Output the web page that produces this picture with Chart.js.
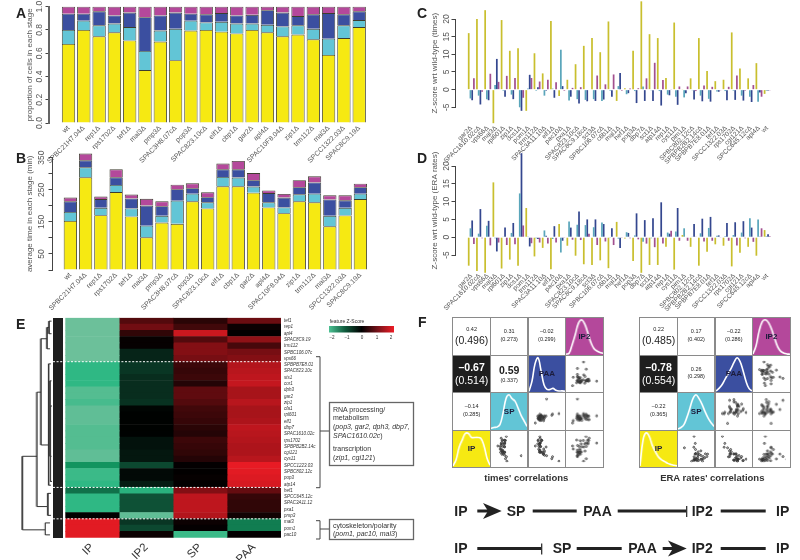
<!DOCTYPE html>
<html>
<head>
<meta charset="utf-8">
<title>Stage times and ERA rates</title>
<script src="https://cdn.jsdelivr.net/npm/chart.js@4"></script>
<style>
  html, body { margin: 0; padding: 0; background: #fff; }
  #figure { position: relative; width: 800px; height: 560px; overflow: hidden; font-family: "Liberation Sans", Arial, sans-serif; filter: blur(0.35px); }
  #figure canvas { position: absolute; }
  #figure svg { position: absolute; left: 0; top: 0; }
  #figure svg text { font-family: "Liberation Sans", Arial, sans-serif; }
  .cell { position: absolute; box-sizing: border-box; border: 1px solid #8a8a8a; text-align: center; color: #222; }
  .cell .name { position: absolute; left: 0; right: 0; top: 13.5px; font-size: 8px; font-weight: bold; color: #1c1c3c; }
  .cell .stack { position: absolute; left: 0; right: 0; top: 50%; transform: translateY(-50%); line-height: 1.08; }
  .small { font-size: 5.5px; display: block; }
  .big { font-size: 10.5px; display: block; }
  .strong { font-weight: bold; }
</style>
</head>
<body>
<div id="figure">
  <div style="position:absolute;left:53px;top:318px;width:9.5px;height:220px;background:#1e1e1e"></div>
</div>

<script>
// Panels A and B
const mutants = ['wt', 'SPBC21H7.04Δ', 'rep1Δ', 'rps1702Δ', 'tef1Δ', 'mal3Δ', 'pmp3Δ', 'SPAC3H8.07cΔ', 'pop3Δ', 'SPAC823.10cΔ',
  'elf1Δ', 'cbp1Δ', 'gar2Δ', 'apl4Δ', 'SPAC10F8.04Δ', 'zip1Δ', 'trm112Δ', 'mal3Δ', 'SPCC1322.03Δ', 'SPAC8C9.19Δ'];
const propIP = [.68, .80, .745, .78, .71, .455, .70, .54, .795, .80, .785, .77, .80, .78, .745, .76, .72, .585, .73, .825];
const propSP = [.12, .08, .095, .075, .115, .165, .095, .27, .085, .065, .085, .085, .055, .065, .085, .08, .09, .14, .11, .06];
const propPAA = [.14, .06, .12, .07, .125, .29, .13, .14, .06, .07, .075, .07, .075, .125, .12, .08, .125, .22, .095, .075];
const propIP2 = [.06, .06, .04, .075, .05, .09, .075, .05, .06, .065, .055, .075, .07, .03, .05, .08, .065, .055, .065, .04];
const timeIP = [153, 289, 171, 243, 167, 102, 148, 144, 214, 192, 261, 261, 241, 195, 177, 214, 211, 136, 170, 221];
const timeSP = [28, 31, 23, 22, 25, 36, 21, 72, 24, 19, 29, 27, 19, 16, 18, 22, 27, 33, 24, 17];
const timePAA = [33, 22, 27, 24, 31, 63, 30, 36, 17, 16, 24, 26, 20, 29, 31, 22, 35, 51, 23, 20];
const timeIP2 = [12, 21, 8, 25, 12, 21, 15, 14, 15, 15, 18, 26, 22, 8, 11, 22, 19, 13, 16, 11];

// Panels C and D
const zGenes = ['gar2Δ', 'SPAC1610.02cΔ', 'vps66Δ', 'mal3Δ', 'rpl601Δ', 'zip1Δ', 'dcs1Δ', 'pom1Δ', 'trm112Δ', 'SPAC3A11.10Δ',
  'elf1Δ', 'pac10Δ', 'pxa1Δ', 'SPAC823.10cΔ', 'SPAC8C9.18cΔ', 'sct3Δ', 'SPBC106.07cΔ', 'c6b1Δ', 'mal1Δ', 'hef1Δ',
  'pop3Δ', 'dbp7Δ', 'sct1Δ', 'atp14Δ', 'rep1Δ', 'cys11Δ', 'pim1Δ', 'SPBC802.12cΔ', 'SPBPB2B2.14cΔ', 'SPBPB7E8.01Δ',
  'tef1Δ', 'SPCC1322.03Δ', 'rps1702Δ', 'cgi121Δ', 'SPCC645.12cΔ', 'apl4Δ', 'wt'];
const timesZIP = [16, 20, 22.5, -9.5, 19.7, 11, 11.7, -6, 10.3, 4.6, 19.4, -1.8, 2.8, 7.2, 12.4, 14.6, 10.6, 19.3, -3.2, 0.4,
  11, 25, 15.7, 14.6, 3.3, 19, 0.1, 3.2, 14.6, 5.3, 2.4, 2.8, 16.2, 6, 3.2, 7.5, -1.2];
const timesZSP = [-2.5, -1.7, -2.7, 1.3, -0.3, -1.4, -5, 0.3, -0.3, -1.7, 0.3, 11.3, -3.1, -2.7, -2.9, -2.7, -3.2, -0.3, 1, -1.3,
  -0.4, 0.9, -0.2, -0.4, -1.4, -2, -2.2, -0.2, -1.7, -2.6, -0.5, -0.4, -0.3, -1.7, -2, -3.4, -0.3];
const timesZPAA = [-3, -4.2, -3, 8.7, -2, -2.7, -6, 4.2, 0.7, -0.3, -2.3, 1, -2, -3.9, -3.3, -3.2, -2.8, -2, 4.7, -1,
  -3.8, -3.2, -3.2, -4.5, -1.6, -4.3, -1, -2.8, -3.3, -3.4, -0.6, -3, -2.9, -3.1, -3.5, -0.8, -0.3];
const timesZIP2 = [3.2, -0.6, 4.5, 2.2, 3.9, 3.3, -2.3, 3.3, 2.3, 2.8, 2.1, -0.3, 0.5, 0.7, -0.2, 4, 1.5, 4.3, -0.3, 0.3,
  0.4, 3.2, 7.6, 2.7, 0.1, 0.9, 0.9, -0.4, 1.2, 0.8, -0.2, 0.8, 4, -0.3, 1.3, -2, -0.2];
const ratesZIP = [-8, -9.5, -10, 15.4, -8.8, -6.3, -8, 8.2, -5.4, -3, -9, 3.7, -2.4, -5.2, -7.6, -7.8, -6.5, -8.7, 4.3, -0.4,
  -6.7, -10, -7.8, -7.8, -2.7, -9.1, 0.6, -2.7, -8, -4.1, -2, -2.4, -8.2, -4.4, -2.7, -5.2, 2];
const ratesZSP = [2.5, 1, 3.2, -0.3, 0.1, 1.2, 12.3, 0.2, -0.3, 1.9, -0.5, -4.3, 4.4, 3.5, 3.4, 2.8, 4.1, -0.2, -0.4, 1.4,
  0.5, -1.3, -0.3, 0.1, 1.3, 1.6, 2.5, 0.1, 1.1, 2.6, 0.4, 0.3, 0.6, 1.3, 5.3, 5, 0.3];
const ratesZPAA = [4.7, 7.9, 4.6, -4, 2.7, 4, 23.6, -2.6, -0.5, 0.4, 3.1, -1, 2.7, 7.2, 5, 5, 3.7, 2.5, -3, 1.2,
  6.7, 4.8, 5.3, 9.8, 1, 8.2, 0.1, 3.7, 5.2, 5.7, 0.5, 4, 4.2, 4.5, 2.7, 0.2, 0.8];
const ratesZIP2 = [-1.9, -0.3, -2.3, -1.5, -2.2, -2, 3.3, -1.7, -1.5, -1.8, -1.5, -0.2, -0.7, -0.8, 1, -2.2, -1.2, -2.2, -0.2, -0.3,
  -0.6, -1.8, -2.8, -1.8, 1.8, -1, -1, 0.1, -1.2, -1, -0.1, -1, -2.3, -0.3, -1.3, 2.5, 0.3];

// Panel E
const heatGenes = ['tef1', 'rep1', 'apl4', 'SPAC8C9.19', 'trm112', 'SPBC106.07c', 'vps66', 'SPBPB7E8.01', 'SPAC823.10c', 'sts1',
  'cor1', 'dph3', 'gar2', 'zip1', 'cfa1', 'rpl601', 'elf1', 'dbp7', 'SPAC1610.02c', 'rps1702',
  'SPBPB2B2.14c', 'cgi121', 'cys11', 'SPCC1223.03', 'SPBC802.12c', 'pop3', 'atp14', 'hef1', 'SPCC645.12c', 'SPAC3A11.12',
  'pxa1', 'pmp3', 'mal3', 'pom1', 'pac10'];
const heatStages = ['IP', 'IP2', 'SP', 'PAA'];
const heatIP = [-2, -2, -2, -2, -2, -2, -2, -1.75, -1.75, -1.75, -1.75, -1.9, -1.9, -1.85, -1.95, -1.95, -1.95, -1.9, -1.9, -1.9,
  -1.9, -1.95, -1.95, -1.5, -1.8, -1.8, -1.75, -1.2, -1.75, -1.75, -1.75, 0, 1.9, 1.9, 1.9];
const heatIP2 = [0.7, 0.95, 0.4, 0.05, 0.05, -0.4, -0.4, -0.6, -0.6, -0.5, -0.5, -0.5, -0.5, -0.55, -0.05, -0.02, -0.02, -0.02, -0.02, -0.2,
  -0.2, -0.25, -0.25, -0.8, -0.1, -0.1, -0.3, -1.7, -0.9, -0.9, -0.9, -1.95, -0.6, -0.8, 0.1];
const heatSP = [0.35, 0.55, 1.7, 0.7, 1.1, 1.1, 1, 0.5, 0.45, 0.5, 0.3, 0.8, 0.8, 0.7, 0.55, 0.5, 0.45, 0.35, 0.3, 0.5,
  0.45, 0.4, 0.3, 0.03, 0.02, 0.05, 0.02, 1.1, 1.6, 1.6, 1.6, 1.5, 0.1, 0.03, -1.8];
const heatPAA = [0.9, 0.1, 0.02, 1.2, 0.6, 1, 1.1, 1.5, 1.55, 1.6, 1.65, 1.4, 1.4, 1.55, 1.4, 1.4, 1.45, 1.6, 1.55, 1.5,
  1.45, 1.45, 1.55, 1.95, 1.9, 1.85, 1.8, 0.85, 0.45, 0.4, 0.4, 0.15, -1.3, -1.3, 0.03];
const heatCutRows = [7, 27, 32];

// dendrogram, height and row position of each branch, null breaks the line
const dendroHeight = [16, 30.4, 30.4, 7.7, null, 12, 16, 16, 6, null, 6, 12, 12, 4.4, null, 4, 6, 6, 3, null,
  1.5, 4, 4, 1.5, null, 2, 4.4, 4.4, 2, null, 1.5, 3, 3, 1.5, null, 1, 2.5, 2.5, 1, null,
  2, 5.2, 5.2, 2, null, 3, 7.7, 7.7, 3];
const dendroRow = [22, 22, 33.7, 33.7, null, 11.8, 11.8, 30, 30, null, 3.3, 3.3, 20.2, 20.2, null, 1.5, 1.5, 4.9, 4.9, null,
  0.5, 0.5, 2.5, 2.5, null, 7.3, 7.3, 26.6, 26.6, null, 10, 10, 22, 22, null, 14, 14, 26, 26, null,
  27.9, 27.9, 31.4, 31.4, null, 32.6, 32.6, 34.5, 34.5];

// Panel F, density curves at even steps across each cell
const densityTimesIP = [.03, .2, .55, .75, .93, .93, .82, .82, .82, .8, .6, .25, .05];
const densityTimesSP = [.05, .07, .08, .15, .45, .85, .95, .85, .78, .6, .4, .25, .1];
const densityTimesPAA = [.02, .3, .78, .95, .6, .2, .07, .07, .1, .05, .03, .03, .02];
const densityTimesIP2 = [.02, .05, .28, .55, .85, .95, .85, .62, .35, .18, .11, .07, .05];
const densityRatesIP = [.03, .75, .95, .85, .6, .42, .28, .2, .15, .1, .07, .05, .03];
const densityRatesSP = [.03, .07, .15, .35, .6, .85, .95, .85, .7, .5, .33, .2, .1];
const densityRatesPAA = [.03, .1, .2, .35, .5, .65, .82, .95, .85, .6, .3, .1, .03];
const densityRatesIP2 = [.03, .25, .65, .9, .95, .88, .7, .45, .22, .1, .05, .03, .02];
const timesCorr = ['0.42', '(0.496)', '0.31', '(0.273)', '–0.02', '(0.299)', '–0.67', '(0.514)', '0.59', '(0.337)', '–0.14', '(0.285)'];
const ratesCorr = ['0.22', '(0.485)', '0.17', '(0.402)', '–0.22', '(0.286)', '–0.78', '(0.554)', '0.26', '(0.298)', '–0.22', '(0.365)'];
// axis limits of the scatter cells, IP SP PAA IP2
const timesLimits = [[-11, 26], [-6.5, 12], [-7, 9.5], [-3, 8.2]];
const ratesLimits = [[-11, 16], [-5, 6], [-5, 10.5], [-3.2, 3]];

const YELLOW = '#f6e912';
const LIGHT = '#62c5d6';
const NAVY = '#3b4fa0';
const PINK = '#b4489b';
const INK = '#555';
const FONT = '"Liberation Sans", Arial, sans-serif';
const figure = document.getElementById('figure');

Chart.defaults.font.family = FONT;
Chart.defaults.animation = false;
Chart.defaults.responsive = false;

// moves the y axis away from the first bar, as R draws it
Chart.register({
  id: 'shiftAxis',
  afterLayout(chart, args, opts) {
    if (!opts.by) return;
    chart.scales.y.left -= opts.by;
    chart.scales.y.right -= opts.by;
  }
});

function addCanvas(left, top, width, height) {
  const canvas = document.createElement('canvas');
  canvas.width = width;
  canvas.height = height;
  canvas.style.left = left + 'px';
  canvas.style.top = top + 'px';
  canvas.style.width = width + 'px';
  canvas.style.height = height + 'px';
  figure.appendChild(canvas);
  return canvas;
}

/**
 * Bar panel with a fixed plot box. box gives the canvas (cl, ct, cw, ch),
 * the plot (l, r, t, b), where the axis sits and where the title centre is.
 */
function barPanel(box, labels, datasets, yOpts, stacked) {
  const canvas = addCanvas(box.cl, box.ct, box.cw, box.ch);
  const shift = box.l - box.axis;
  const titleSize = 8;
  new Chart(canvas, {
    type: 'bar',
    data: { labels: labels, datasets: datasets },
    options: {
      layout: { padding: { left: 0, top: box.t - box.ct, right: box.cl + box.cw - box.r, bottom: 0 } },
      plugins: { legend: { display: false }, tooltip: { enabled: false }, shiftAxis: { by: shift } },
      scales: {
        x: {
          stacked: stacked,
          grid: { display: false, drawTicks: false },
          border: { display: false },
          afterFit: s => { s.height = box.ct + box.ch - box.b; },
          ticks: { autoSkip: false, minRotation: 45, maxRotation: 45, padding: box.labelPad, color: INK, font: { size: box.labelSize } }
        },
        y: {
          stacked: stacked,
          min: yOpts.min,
          max: yOpts.max,
          afterFit: s => { s.width = box.l - box.cl; },
          afterBuildTicks: s => { s.ticks = yOpts.ticks.map(v => ({ value: v })); },
          grid: { drawOnChartArea: false, tickLength: 3.5, color: '#444', lineWidth: 1 },
          border: { color: yOpts.axisColor, width: yOpts.axisWidth },
          title: {
            display: true,
            text: yOpts.title,
            color: INK,
            font: { size: titleSize },
            padding: { top: box.titleX - (box.cl - shift) - titleSize * 0.6, bottom: 0 }
          },
          ticks: {
            autoSkip: false,
            minRotation: 90,
            maxRotation: 90,
            crossAlign: 'center',
            padding: 0,
            color: INK,
            font: { size: 8.5 },
            callback: yOpts.format
          }
        }
      }
    }
  });
}

function stackSet(values, color) {
  return { data: values, backgroundColor: color, borderColor: '#3d3d2e', borderWidth: 0.9, barPercentage: 0.87, categoryPercentage: 1, clip: false };
}

function groupSet(values, color) {
  return { data: values, backgroundColor: color, barPercentage: 1, categoryPercentage: 0.84, clip: false };
}

barPanel({ cl: 0, ct: 0, cw: 400, ch: 170, l: 60.85, r: 366.85, t: 6.7, b: 123, axis: 49, titleX: 30, labelPad: 1, labelSize: 7 },
  mutants,
  [stackSet(propIP, YELLOW), stackSet(propSP, LIGHT), stackSet(propPAA, NAVY), stackSet(propIP2, PINK)],
  { min: 0, max: 1, ticks: [0, .2, .4, .6, .8, 1], axisColor: '#666', axisWidth: 2, title: 'proportion of cells in each stage',
    format: v => v.toFixed(1) }, true);

barPanel({ cl: 0, ct: 145, cw: 400, ch: 175, l: 62.7, r: 368, t: 157.7, b: 270, axis: 52, titleX: 30, labelPad: 1, labelSize: 7 },
  mutants,
  [stackSet(timeIP, YELLOW), stackSet(timeSP, LIGHT), stackSet(timePAA, NAVY), stackSet(timeIP2, PINK)],
  { min: 0, max: 350, ticks: [0, 50, 100, 150, 200, 250, 300, 350], axisColor: '#444', axisWidth: 1, title: 'average time in each stage (min)',
    format: v => (v % 100 === 50 ? String(v) : '') }, true);

const zTicks = [-5, 0, 5, 10, 15, 20];
barPanel({ cl: 412, ct: 0, cw: 388, ch: 170, l: 467.2, r: 771.3, t: 19, b: 107.3, axis: 455, titleX: 435, labelPad: 17, labelSize: 6.6 },
  zGenes,
  [groupSet(timesZIP, '#c9bf2e'), groupSet(timesZSP, '#5aa6bb'), groupSet(timesZPAA, '#34478f'), groupSet(timesZIP2, '#a2508f')],
  { min: -5, max: 20, ticks: zTicks, axisColor: '#444', axisWidth: 1, title: 'Z-score wrt wild-type (times)', format: v => String(v) }, false);

barPanel({ cl: 412, ct: 145, cw: 388, ch: 175, l: 467.2, r: 771.3, t: 166, b: 255, axis: 455, titleX: 435, labelPad: 17, labelSize: 6.6 },
  zGenes,
  [groupSet(ratesZIP, '#c9bf2e'), groupSet(ratesZSP, '#5aa6bb'), groupSet(ratesZPAA, '#34478f'), groupSet(ratesZIP2, '#a2508f')],
  { min: -5, max: 20, ticks: zTicks, axisColor: '#444', axisWidth: 1, title: 'Z-score wrt wild-type (ERA rates)', format: v => String(v) }, false);

// colour ramp of the heatmap
function heatColor(z) {
  const stops = [[-2, 108, 192, 154], [-1.75, 47, 184, 132], [-1.5, 18, 148, 95], [-1, 15, 90, 60], [0, 0, 0, 0], [2, 238, 28, 37]];
  const v = Math.max(-2, Math.min(2, z));
  for (let i = 1; i < stops.length; i++) {
    if (v <= stops[i][0]) {
      const a = stops[i - 1];
      const b = stops[i];
      const f = (v - a[0]) / (b[0] - a[0]);
      return `rgb(${a[1] + (b[1] - a[1]) * f},${a[2] + (b[2] - a[2]) * f},${a[3] + (b[3] - a[3]) * f})`;
    }
  }
  return 'rgb(238,28,37)';
}

function heatmapPanel() {
  const l = 65.3, r = 281, t = 317.7, b = 537.7;
  const cl = 40, ct = 312, cw = 300, ch = 248;
  const oneCell = heatGenes.map(() => 1);
  const columns = [heatIP, heatIP2, heatSP, heatPAA];
  const cutLines = {
    id: 'cutLines',
    afterDatasetsDraw(chart) {
      const ctx = chart.ctx;
      const y = chart.scales.y;
      const rowH = (y.getPixelForValue(1) - y.getPixelForValue(0));
      ctx.save();
      ctx.strokeStyle = '#fff';
      ctx.lineWidth = 1;
      ctx.setLineDash([2, 1.6]);
      heatCutRows.forEach(row => {
        const py = y.getPixelForValue(row) - rowH / 2;
        ctx.beginPath();
        ctx.moveTo(53 - cl, py);
        ctx.lineTo(r - cl, py);
        ctx.stroke();
      });
      ctx.restore();
    }
  };
  new Chart(addCanvas(cl, ct, cw, ch), {
    type: 'bar',
    plugins: [cutLines],
    data: {
      labels: heatGenes,
      datasets: columns.map(col => ({
        data: oneCell,
        backgroundColor: col.map(heatColor),
        borderWidth: 0,
        inflateAmount: 0.3,
        barPercentage: 1,
        categoryPercentage: 1
      }))
    },
    options: {
      indexAxis: 'y',
      layout: { padding: { left: l - cl, top: t - ct, right: 0, bottom: 0 } },
      plugins: { legend: { display: false }, tooltip: { enabled: false } },
      scales: {
        x: {
          stacked: true,
          min: 0,
          max: 4,
          grid: { display: false, drawTicks: false },
          border: { display: false },
          afterFit: s => { s.height = ct + ch - b; },
          afterBuildTicks: s => { s.ticks = heatStages.map((_, i) => ({ value: i + 0.5 })); },
          ticks: { minRotation: 45, maxRotation: 45, padding: 3, color: '#333', font: { size: 11.5 }, callback: v => heatStages[v - 0.5] }
        },
        y: {
          stacked: true,
          position: 'right',
          grid: { display: false, drawTicks: false },
          border: { display: false },
          afterFit: s => { s.width = cl + cw - r; },
          ticks: { autoSkip: false, padding: 3, color: '#333', font: { size: 4.5, style: 'italic' } }
        }
      }
    }
  });

  const dendroPoints = dendroHeight.map((h, i) => ({ x: h, y: dendroRow[i] }));
  new Chart(addCanvas(15, t, 37.7, b - t), {
    type: 'scatter',
    data: { datasets: [{ data: dendroPoints, showLine: true, borderColor: '#333', borderWidth: 1, pointRadius: 0, spanGaps: false, tension: 0 }] },
    options: {
      plugins: { legend: { display: false }, tooltip: { enabled: false } },
      scales: {
        x: { display: false, reverse: true, min: 0, max: 37.7 },
        y: { display: false, reverse: true, min: 0, max: 35 }
      }
    }
  });
}
heatmapPanel();

function densityCell(left, top, size, curve, fill, name) {
  const cell = document.createElement('div');
  cell.className = 'cell';
  cell.style.cssText = `left:${left}px;top:${top}px;width:${size + 1}px;height:${size + 1}px;background:${fill}`;
  figure.appendChild(cell);
  new Chart(addCanvas(left + 1, top + 1, size - 1, size - 1), {
    type: 'line',
    data: { labels: curve.map((_, i) => i), datasets: [{ data: curve, borderColor: '#fff', borderWidth: 1.6, pointRadius: 0, tension: 0.4 }] },
    options: {
      plugins: { legend: { display: false }, tooltip: { enabled: false } },
      scales: { x: { display: false }, y: { display: false, min: 0, max: 1 } }
    }
  });
  const label = document.createElement('div');
  label.className = 'cell';
  label.style.cssText = `left:${left}px;top:${top}px;width:${size + 1}px;height:${size + 1}px;border-color:transparent`;
  label.innerHTML = `<span class="name">${name}</span>`;
  figure.appendChild(label);
}

function scatterCell(left, top, size, xs, ys, xLim, yLim) {
  const cell = document.createElement('div');
  cell.className = 'cell';
  cell.style.cssText = `left:${left}px;top:${top}px;width:${size + 1}px;height:${size + 1}px`;
  figure.appendChild(cell);
  new Chart(addCanvas(left + 1, top + 1, size - 1, size - 1), {
    type: 'scatter',
    data: { datasets: [{ data: xs.map((x, i) => ({ x: x, y: ys[i] })), pointRadius: 1, pointBorderWidth: 0.7, pointBackgroundColor: 'rgba(60,60,60,0.35)', pointBorderColor: '#333' }] },
    options: {
      plugins: { legend: { display: false }, tooltip: { enabled: false } },
      scales: { x: { display: false, min: xLim[0], max: xLim[1] }, y: { display: false, min: yLim[0], max: yLim[1] } }
    }
  });
}

function textCell(left, top, size, first, second, firstClass, secondClass, dark) {
  const cell = document.createElement('div');
  cell.className = 'cell';
  cell.style.cssText = `left:${left}px;top:${top}px;width:${size + 1}px;height:${size + 1}px;` + (dark ? 'background:#1e1e1e;color:#fff' : '');
  cell.innerHTML = `<div class="stack"><span class="${firstClass}">${first}</span><span class="${secondClass}" style="margin-top:1.5px">${second}</span></div>`;
  figure.appendChild(cell);
}

function splomPanel(left, top, ip, sp, paa, ip2, dens, corr, midClass, lim) {
  const size = 37.6;
  const px = c => left + c * size;
  const py = r => top + r * size;
  textCell(px(0), py(0), size, corr[0], corr[1], 'small', 'big', false);
  textCell(px(1), py(0), size, corr[2], corr[3], 'small', 'small', false);
  textCell(px(2), py(0), size, corr[4], corr[5], 'small', 'small', false);
  textCell(px(0), py(1), size, corr[6], corr[7], 'big strong', 'big', true);
  textCell(px(1), py(1), size, corr[8], corr[9], midClass, 'small', false);
  textCell(px(0), py(2), size, corr[10], corr[11], 'small', 'small', false);
  densityCell(px(3), py(0), size, dens[3], PINK, 'IP2');
  densityCell(px(2), py(1), size, dens[2], NAVY, 'PAA');
  densityCell(px(1), py(2), size, dens[1], LIGHT, 'SP');
  densityCell(px(0), py(3), size, dens[0], YELLOW, 'IP');
  scatterCell(px(3), py(1), size, ip2, paa, lim[3], lim[2]);
  scatterCell(px(2), py(2), size, paa, sp, lim[2], lim[1]);
  scatterCell(px(3), py(2), size, ip2, sp, lim[3], lim[1]);
  scatterCell(px(1), py(3), size, sp, ip, lim[1], lim[0]);
  scatterCell(px(2), py(3), size, paa, ip, lim[2], lim[0]);
  scatterCell(px(3), py(3), size, ip2, ip, lim[3], lim[0]);
}

splomPanel(452.3, 317, timesZIP, timesZSP, timesZPAA, timesZIP2,
  [densityTimesIP, densityTimesSP, densityTimesPAA, densityTimesIP2], timesCorr, 'big strong', timesLimits);
splomPanel(639.3, 317, ratesZIP, ratesZSP, ratesZPAA, ratesZIP2,
  [densityRatesIP, densityRatesSP, densityRatesPAA, densityRatesIP2], ratesCorr, 'small', ratesLimits);
</script>

<script>
// letters, brackets, notes and the two pathway lines, on top of the charts
const SVG_NOTES = `
<svg width="800" height="560" xmlns="http://www.w3.org/2000/svg">
  <defs><linearGradient id="ramp">
    <stop offset="0" stop-color="#4cc193"/><stop offset="0.25" stop-color="#0f5a3c"/><stop offset="0.5" stop-color="#000"/>
    <stop offset="0.75" stop-color="#77131a"/><stop offset="1" stop-color="#ee1c25"/>
  </linearGradient></defs>
  <g font-size="14" font-weight="bold" fill="#222">
    <text x="16" y="18">A</text><text x="16" y="163">B</text><text x="417" y="18">C</text>
    <text x="417" y="163">D</text><text x="16" y="329">E</text><text x="418" y="327">F</text>
  </g>
  <rect x="329" y="326" width="65" height="6.5" fill="url(#ramp)"/>
  <g font-size="4.6" fill="#333" text-anchor="middle">
    <text x="347" y="323" font-size="5">feature Z-Score</text>
    <text x="332" y="339">−2</text><text x="347" y="339">−1</text><text x="362" y="339">0</text><text x="377" y="339">1</text><text x="391" y="339">2</text>
  </g>
  <g fill="none" stroke="#444" stroke-width="1">
    <path d="M316 356.7H320V487.7H316M320 431H329"/>
    <path d="M316 520.7H320V539H316M320 529H329"/>
  </g>
  <g fill="#fff" stroke="#666" stroke-width="1.3">
    <rect x="329.5" y="402.5" width="84" height="63"/>
    <rect x="329.5" y="519.5" width="84" height="20"/>
  </g>
  <g font-size="7" fill="#333">
    <text x="333" y="411.5">RNA processing/</text>
    <text x="333" y="420">metabolism</text>
    <text x="333" y="429">(<tspan font-style="italic">pop3, gar2, dph3, dbp7,</tspan></text>
    <text x="333" y="437.5"><tspan font-style="italic">SPAC1610.02c</tspan>)</text>
    <text x="333" y="451">transcription</text>
    <text x="333" y="459.5">(<tspan font-style="italic">zip1, cgi121</tspan>)</text>
    <text x="333" y="527.5">cytoskeleton/polarity</text>
    <text x="333" y="536">(<tspan font-style="italic">pom1, pac10, mal3</tspan>)</text>
  </g>
  <g font-size="9.5" font-weight="bold" fill="#333" text-anchor="middle">
    <text x="526.3" y="481">times' correlations</text>
    <text x="712.3" y="481">ERA rates' correlations</text>
  </g>
  <g font-size="14" font-weight="bold" fill="#222">
    <text x="454.3" y="516">IP</text><text x="506.7" y="516">SP</text><text x="583.3" y="516">PAA</text><text x="691.7" y="516">IP2</text><text x="776" y="516">IP</text>
    <text x="454.3" y="553">IP</text><text x="552.7" y="553">SP</text><text x="628.3" y="553">PAA</text><text x="691.7" y="553">IP2</text><text x="776" y="553">IP</text>
  </g>
  <g stroke="#222" stroke-width="3" fill="none">
    <path d="M477.3 511H488M532.7 511H576.7M617.7 511H686M720.7 511H765.7"/>
    <path d="M477.3 548.5H541M576.7 548.5H621.7M662.7 548.5H675M720.7 548.5H765.7"/>
  </g>
  <g stroke="#222" stroke-width="1.2" fill="none">
    <path d="M686.7 506V517M541.7 543.5V554.5"/>
  </g>
  <g fill="#222">
    <path d="M483 503L501.7 511L483 519L488 511Z"/>
    <path d="M668 540.5L686.7 548.5L668 556.5L673 548.5Z"/>
  </g>
</svg>`;
document.getElementById('figure').insertAdjacentHTML('beforeend', SVG_NOTES);
</script>
</body>
</html>
